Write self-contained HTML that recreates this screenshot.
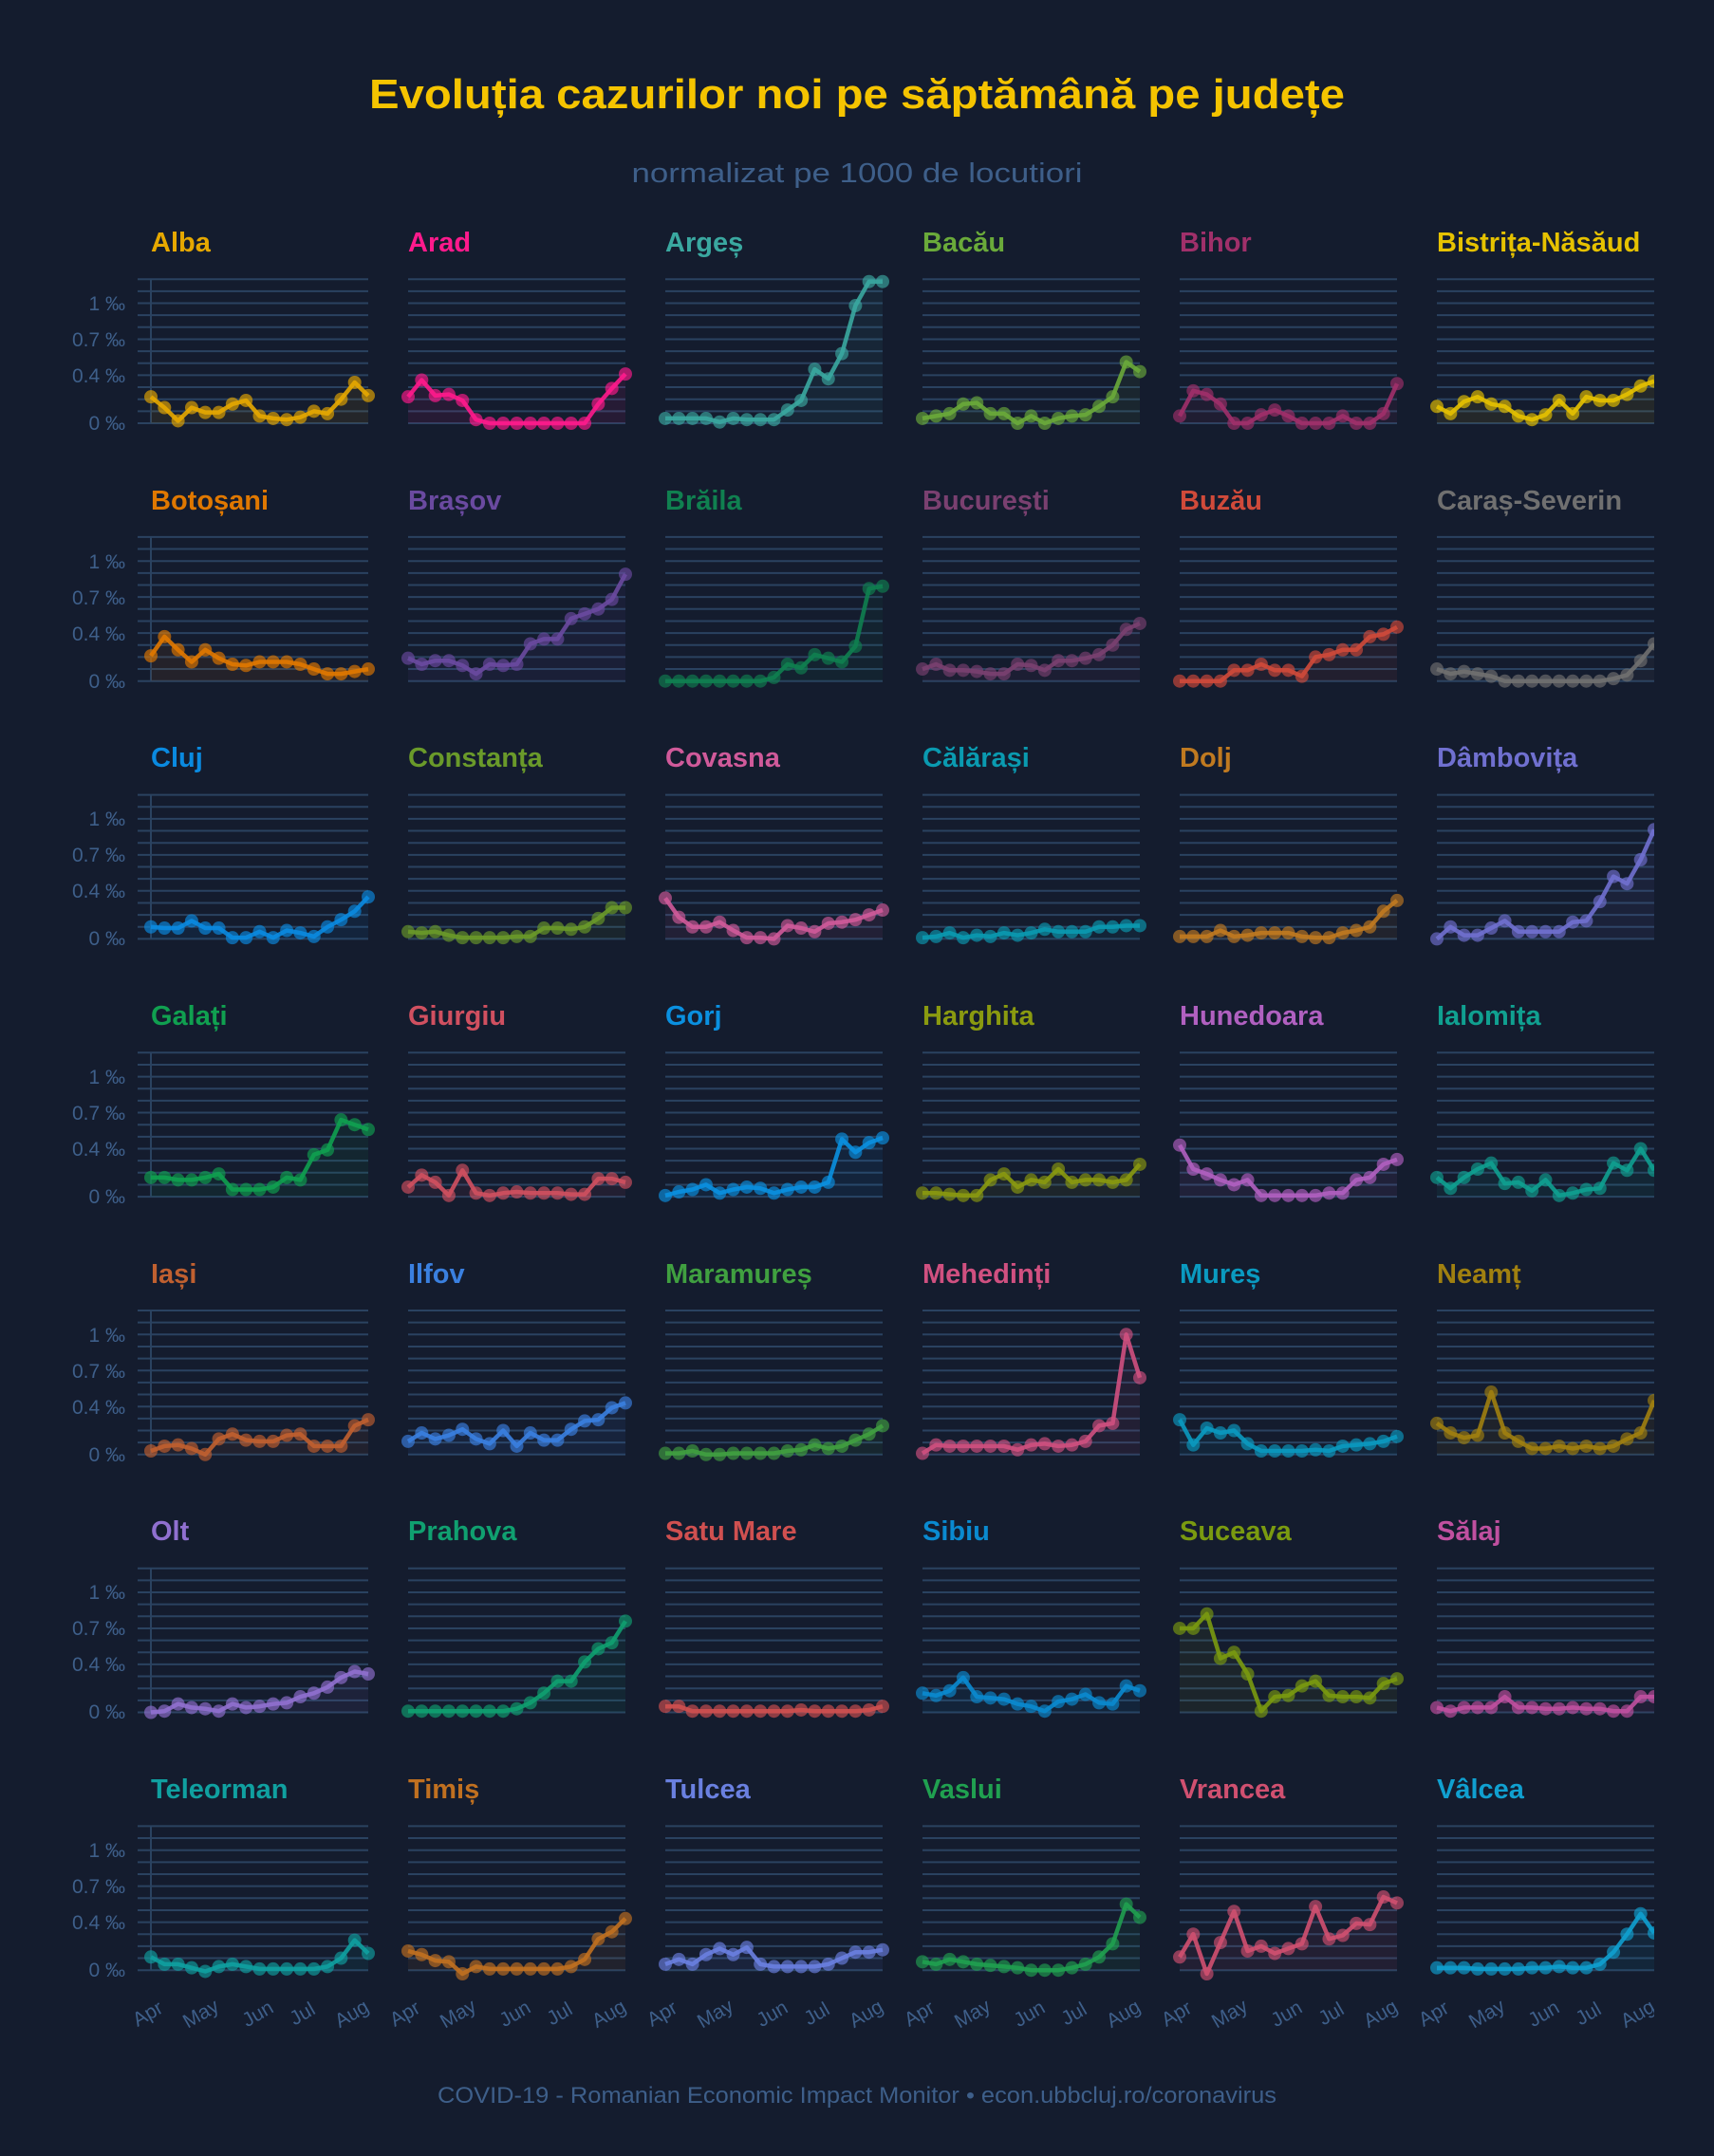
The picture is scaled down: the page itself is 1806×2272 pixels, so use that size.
<!DOCTYPE html>
<html><head><meta charset="utf-8">
<style>
html,body{margin:0;padding:0;background:#141c2e;}
svg{display:block;}
.t{font-family:"Liberation Sans",sans-serif;font-weight:bold;font-size:29px;}
.yl{font-family:"Liberation Sans",sans-serif;font-size:21px;fill:#3e5f8a;text-anchor:end;}
.xl{font-family:"Liberation Sans",sans-serif;font-size:21px;fill:#3e5f8a;text-anchor:middle;}
</style></head>
<body>
<svg id="s" width="1806" height="2272" viewBox="0 0 1806 2272" xmlns="http://www.w3.org/2000/svg">
<rect width="1806" height="2272" fill="#141c2e"/>
<defs><clipPath id="cl"><rect x="0" y="0" width="1743" height="2272"/></clipPath></defs>
<g id="grid"></g>
<g id="data" clip-path="url(#cl)"></g>
<text x="903" y="114" text-anchor="middle" font-family="Liberation Sans, sans-serif" font-weight="bold" font-size="44" fill="#f5c400" textLength="1028" lengthAdjust="spacingAndGlyphs">Evoluția cazurilor noi pe săptămână pe județe</text>
<text x="903" y="192" text-anchor="middle" font-family="Liberation Sans, sans-serif" font-size="29" fill="#3e5f8a" textLength="475" lengthAdjust="spacingAndGlyphs">normalizat pe 1000 de locutiori</text>
<text x="903" y="2216" text-anchor="middle" font-family="Liberation Sans, sans-serif" font-size="24" fill="#3e5f8a" textLength="884" lengthAdjust="spacingAndGlyphs">COVID-19 - Romanian Economic Impact Monitor • econ.ubbcluj.ro/coronavirus</text>
<g id="titles">
<text class="t" x="159" y="265" fill="#e6a800">Alba</text>
<text class="t" x="430" y="265" fill="#ff1a8c">Arad</text>
<text class="t" x="701" y="265" fill="#3aa8a0">Argeș</text>
<text class="t" x="972" y="265" fill="#6aaa3a">Bacău</text>
<text class="t" x="1243" y="265" fill="#a0306a">Bihor</text>
<text class="t" x="1514" y="265" fill="#e6c200">Bistrița-Năsăud</text>
<text class="t" x="159" y="537" fill="#e07800">Botoșani</text>
<text class="t" x="430" y="537" fill="#6a4aa0">Brașov</text>
<text class="t" x="701" y="537" fill="#108050">Brăila</text>
<text class="t" x="972" y="537" fill="#7a4070">București</text>
<text class="t" x="1243" y="537" fill="#d04a3a">Buzău</text>
<text class="t" x="1514" y="537" fill="#707070">Caraș-Severin</text>
<text class="t" x="159" y="808" fill="#0a8ae0">Cluj</text>
<text class="t" x="430" y="808" fill="#6a9a2a">Constanța</text>
<text class="t" x="701" y="808" fill="#d05a9a">Covasna</text>
<text class="t" x="972" y="808" fill="#0a9ab0">Călărași</text>
<text class="t" x="1243" y="808" fill="#c07a20">Dolj</text>
<text class="t" x="1514" y="808" fill="#7070d0">Dâmbovița</text>
<text class="t" x="159" y="1080" fill="#10a050">Galați</text>
<text class="t" x="430" y="1080" fill="#d05060">Giurgiu</text>
<text class="t" x="701" y="1080" fill="#0a90e0">Gorj</text>
<text class="t" x="972" y="1080" fill="#8a9a10">Harghita</text>
<text class="t" x="1243" y="1080" fill="#b060c0">Hunedoara</text>
<text class="t" x="1514" y="1080" fill="#10a090">Ialomița</text>
<text class="t" x="159" y="1352" fill="#c06030">Iași</text>
<text class="t" x="430" y="1352" fill="#3a80e0">Ilfov</text>
<text class="t" x="701" y="1352" fill="#40a040">Maramureș</text>
<text class="t" x="972" y="1352" fill="#d05080">Mehedinți</text>
<text class="t" x="1243" y="1352" fill="#0a9ac0">Mureș</text>
<text class="t" x="1514" y="1352" fill="#a08010">Neamț</text>
<text class="t" x="159" y="1623" fill="#9070d0">Olt</text>
<text class="t" x="430" y="1623" fill="#10a070">Prahova</text>
<text class="t" x="701" y="1623" fill="#d05050">Satu Mare</text>
<text class="t" x="972" y="1623" fill="#0a8ad0">Sibiu</text>
<text class="t" x="1243" y="1623" fill="#7a9a10">Suceava</text>
<text class="t" x="1514" y="1623" fill="#c050a0">Sălaj</text>
<text class="t" x="159" y="1895" fill="#10a0a0">Teleorman</text>
<text class="t" x="430" y="1895" fill="#c07020">Timiș</text>
<text class="t" x="701" y="1895" fill="#6a80e0">Tulcea</text>
<text class="t" x="972" y="1895" fill="#20a050">Vaslui</text>
<text class="t" x="1243" y="1895" fill="#d05070">Vrancea</text>
<text class="t" x="1514" y="1895" fill="#10a0d0">Vâlcea</text>
</g>
<g id="ylabels">
<text class="yl" x="132" y="327">1 ‰</text><text class="yl" x="132" y="365">0.7 ‰</text><text class="yl" x="132" y="403">0.4 ‰</text><text class="yl" x="132" y="453">0 ‰</text>
<text class="yl" x="132" y="599">1 ‰</text><text class="yl" x="132" y="637">0.7 ‰</text><text class="yl" x="132" y="675">0.4 ‰</text><text class="yl" x="132" y="725">0 ‰</text>
<text class="yl" x="132" y="870">1 ‰</text><text class="yl" x="132" y="908">0.7 ‰</text><text class="yl" x="132" y="946">0.4 ‰</text><text class="yl" x="132" y="996">0 ‰</text>
<text class="yl" x="132" y="1142">1 ‰</text><text class="yl" x="132" y="1180">0.7 ‰</text><text class="yl" x="132" y="1218">0.4 ‰</text><text class="yl" x="132" y="1268">0 ‰</text>
<text class="yl" x="132" y="1414">1 ‰</text><text class="yl" x="132" y="1452">0.7 ‰</text><text class="yl" x="132" y="1490">0.4 ‰</text><text class="yl" x="132" y="1540">0 ‰</text>
<text class="yl" x="132" y="1685">1 ‰</text><text class="yl" x="132" y="1723">0.7 ‰</text><text class="yl" x="132" y="1761">0.4 ‰</text><text class="yl" x="132" y="1811">0 ‰</text>
<text class="yl" x="132" y="1957">1 ‰</text><text class="yl" x="132" y="1995">0.7 ‰</text><text class="yl" x="132" y="2033">0.4 ‰</text><text class="yl" x="132" y="2083">0 ‰</text>
</g>
<g id="xlabels" clip-path="url(#cl)">
<text class="xl" transform="translate(159,2128) rotate(-30)">Apr</text><text class="xl" transform="translate(215,2128) rotate(-30)">May</text><text class="xl" transform="translate(275,2128) rotate(-30)">Jun</text><text class="xl" transform="translate(322,2128) rotate(-30)">Jul</text><text class="xl" transform="translate(374,2128) rotate(-30)">Aug</text>
<text class="xl" transform="translate(430,2128) rotate(-30)">Apr</text><text class="xl" transform="translate(486,2128) rotate(-30)">May</text><text class="xl" transform="translate(546,2128) rotate(-30)">Jun</text><text class="xl" transform="translate(593,2128) rotate(-30)">Jul</text><text class="xl" transform="translate(645,2128) rotate(-30)">Aug</text>
<text class="xl" transform="translate(701,2128) rotate(-30)">Apr</text><text class="xl" transform="translate(757,2128) rotate(-30)">May</text><text class="xl" transform="translate(817,2128) rotate(-30)">Jun</text><text class="xl" transform="translate(864,2128) rotate(-30)">Jul</text><text class="xl" transform="translate(916,2128) rotate(-30)">Aug</text>
<text class="xl" transform="translate(972,2128) rotate(-30)">Apr</text><text class="xl" transform="translate(1028,2128) rotate(-30)">May</text><text class="xl" transform="translate(1088,2128) rotate(-30)">Jun</text><text class="xl" transform="translate(1135,2128) rotate(-30)">Jul</text><text class="xl" transform="translate(1187,2128) rotate(-30)">Aug</text>
<text class="xl" transform="translate(1243,2128) rotate(-30)">Apr</text><text class="xl" transform="translate(1299,2128) rotate(-30)">May</text><text class="xl" transform="translate(1359,2128) rotate(-30)">Jun</text><text class="xl" transform="translate(1406,2128) rotate(-30)">Jul</text><text class="xl" transform="translate(1458,2128) rotate(-30)">Aug</text>
<text class="xl" transform="translate(1514,2128) rotate(-30)">Apr</text><text class="xl" transform="translate(1570,2128) rotate(-30)">May</text><text class="xl" transform="translate(1630,2128) rotate(-30)">Jun</text><text class="xl" transform="translate(1677,2128) rotate(-30)">Jul</text><text class="xl" transform="translate(1729,2128) rotate(-30)">Aug</text>
</g>
</svg>
<script>
var D=[
["#e6a800",[.22,.13,.02,.13,.09,.09,.16,.19,.06,.04,.03,.05,.10,.08,.20,.34,.23]],
["#ff1a8c",[.22,.36,.23,.24,.19,.03,0,0,0,0,0,0,0,0,.16,.29,.41]],
["#3aa8a0",[.04,.04,.04,.04,.01,.04,.03,.03,.03,.11,.19,.45,.37,.58,.98,1.18,1.18]],
["#6aaa3a",[.04,.06,.08,.16,.17,.08,.08,0,.06,0,.04,.06,.07,.14,.22,.51,.43]],
["#a0306a",[.06,.27,.24,.16,0,0,.07,.11,.06,0,0,0,.06,0,0,.08,.33]],
["#e6c200",[.14,.08,.18,.22,.16,.14,.06,.03,.07,.19,.08,.22,.19,.19,.24,.31,.35]],
["#e07800",[.21,.37,.26,.16,.26,.19,.14,.13,.16,.16,.16,.14,.10,.06,.06,.08,.10]],
["#6a4aa0",[.19,.14,.17,.17,.13,.06,.14,.13,.14,.31,.35,.35,.52,.56,.60,.68,.89]],
["#108050",[0,0,0,0,0,0,0,0,.03,.14,.11,.22,.19,.16,.29,.77,.79]],
["#7a4070",[.10,.14,.09,.09,.08,.06,.06,.14,.13,.09,.17,.17,.19,.22,.30,.43,.48]],
["#d04a3a",[0,0,0,0,.09,.09,.14,.09,.09,.04,.20,.22,.26,.26,.37,.39,.45]],
["#707070",[.10,.06,.08,.06,.04,0,0,0,0,0,0,0,0,.02,.05,.17,.31]],
["#0a8ae0",[.10,.09,.09,.15,.09,.09,.01,.01,.06,.01,.07,.05,.02,.10,.16,.23,.35]],
["#6a9a2a",[.06,.05,.06,.03,.01,.01,.01,.01,.02,.02,.09,.09,.08,.10,.17,.26,.26]],
["#d05a9a",[.34,.18,.10,.10,.14,.07,.01,.01,0,.11,.09,.06,.13,.14,.16,.20,.24]],
["#0a9ab0",[.01,.02,.05,.01,.03,.02,.05,.03,.05,.08,.06,.06,.06,.10,.10,.11,.11]],
["#c07a20",[.02,.02,.02,.07,.02,.03,.05,.05,.05,.02,.01,.01,.05,.07,.10,.23,.32]],
["#7070d0",[0,.10,.03,.03,.09,.15,.06,.06,.06,.06,.14,.15,.31,.52,.46,.66,.91]],
["#10a050",[.16,.16,.14,.14,.16,.19,.06,.06,.06,.08,.16,.14,.35,.39,.64,.60,.56]],
["#d05060",[.08,.18,.12,.01,.22,.03,.01,.03,.04,.03,.03,.03,.02,.02,.15,.15,.12]],
["#0a90e0",[.01,.04,.06,.10,.03,.06,.08,.07,.03,.06,.08,.08,.12,.48,.37,.45,.49]],
["#8a9a10",[.03,.03,.02,.01,.01,.14,.19,.08,.14,.12,.23,.12,.14,.14,.12,.14,.27]],
["#b060c0",[.43,.23,.19,.14,.10,.14,.01,.01,.01,.01,.01,.03,.03,.14,.16,.27,.31]],
["#10a090",[.16,.07,.16,.23,.28,.11,.12,.05,.14,.01,.03,.06,.07,.28,.22,.40,.22]],
["#c06030",[.03,.07,.08,.05,0,.13,.17,.12,.11,.11,.16,.17,.07,.07,.07,.24,.29]],
["#3a80e0",[.11,.18,.13,.16,.21,.13,.09,.20,.07,.18,.12,.12,.21,.28,.29,.39,.43]],
["#40a040",[.01,.01,.03,0,0,.01,.01,.01,.01,.03,.04,.08,.05,.07,.12,.17,.24]],
["#d05080",[.01,.08,.07,.07,.07,.07,.07,.04,.08,.09,.07,.08,.11,.24,.26,1.0,.64]],
["#0a9ac0",[.29,.08,.22,.18,.20,.09,.03,.03,.03,.03,.04,.03,.07,.08,.09,.11,.15]],
["#a08010",[.26,.18,.14,.16,.52,.18,.11,.05,.05,.07,.05,.07,.05,.07,.13,.18,.45]],
["#9070d0",[0,.01,.07,.04,.03,.01,.07,.04,.05,.07,.08,.13,.16,.21,.29,.34,.32]],
["#10a070",[.01,.01,.01,.01,.01,.01,.01,.01,.03,.08,.16,.26,.26,.42,.53,.58,.76]],
["#d05050",[.05,.05,.01,.01,.01,.01,.01,.01,.01,.01,.02,.01,.01,.01,.01,.02,.05]],
["#0a8ad0",[.16,.14,.18,.29,.13,.12,.11,.07,.05,.01,.09,.11,.15,.08,.07,.22,.18]],
["#7a9a10",[.70,.70,.82,.45,.50,.32,.01,.13,.14,.22,.26,.14,.13,.13,.12,.24,.28]],
["#c050a0",[.04,.01,.04,.04,.04,.13,.04,.04,.03,.03,.04,.03,.03,.01,.01,.13,.13]],
["#10a0a0",[.11,.05,.05,.02,-.01,.03,.05,.03,.01,.01,.01,.01,.01,.03,.10,.25,.14]],
["#c07020",[.16,.13,.08,.07,-.03,.03,.01,.01,.01,.01,.01,.01,.03,.09,.26,.32,.43]],
["#6a80e0",[.05,.09,.05,.13,.18,.13,.19,.05,.03,.03,.03,.03,.05,.10,.15,.15,.17]],
["#20a050",[.07,.05,.09,.07,.05,.04,.03,.02,0,0,0,.02,.05,.11,.22,.55,.44]],
["#d05070",[.11,.30,-.03,.23,.49,.16,.20,.14,.18,.22,.53,.26,.29,.39,.38,.61,.56]],
["#10a0d0",[.02,.02,.02,.01,.01,.01,.01,.02,.02,.03,.02,.02,.05,.15,.30,.47,.31]]
];
var NS="http://www.w3.org/2000/svg",g=document.getElementById("grid"),dg=document.getElementById("data");
function el(p,n,a){var e=document.createElementNS(NS,n);for(var k in a)e.setAttribute(k,a[k]);p.appendChild(e);return e;}
for(var r=0;r<7;r++)for(var c=0;c<6;c++){
 var x0=159+271*c,b=446+271.7*r,x1=x0+229;
 for(var k=0;k<=12;k++){var y=b-k*12.65;el(g,"line",{x1:(c==0?145:x0),x2:x1,y1:y,y2:y,stroke:"#2a4260","stroke-width":2});}
 if(c==0)el(g,"line",{x1:x0,x2:x0,y1:b-12*12.65,y2:b,stroke:"#2a4260","stroke-width":2});
 var d=D[r*6+c],col=d[0],v=d[1],pts=[];
 for(var i=0;i<v.length;i++)pts.push([x0+i*229/16,b-v[i]*126.5]);
 var ps=pts.map(function(p){return p[0].toFixed(1)+","+p[1].toFixed(1)}).join(" ");
 el(dg,"polygon",{points:x0+","+b+" "+ps+" "+x1+","+b,fill:col,"fill-opacity":0.08});
 el(dg,"polyline",{points:ps,fill:"none",stroke:col,"stroke-width":4.5,"stroke-linejoin":"round","stroke-opacity":0.9});
 pts.forEach(function(p){el(dg,"circle",{cx:p[0],cy:p[1],r:7,fill:col,"fill-opacity":0.65});});
}
</script>
</body></html>
